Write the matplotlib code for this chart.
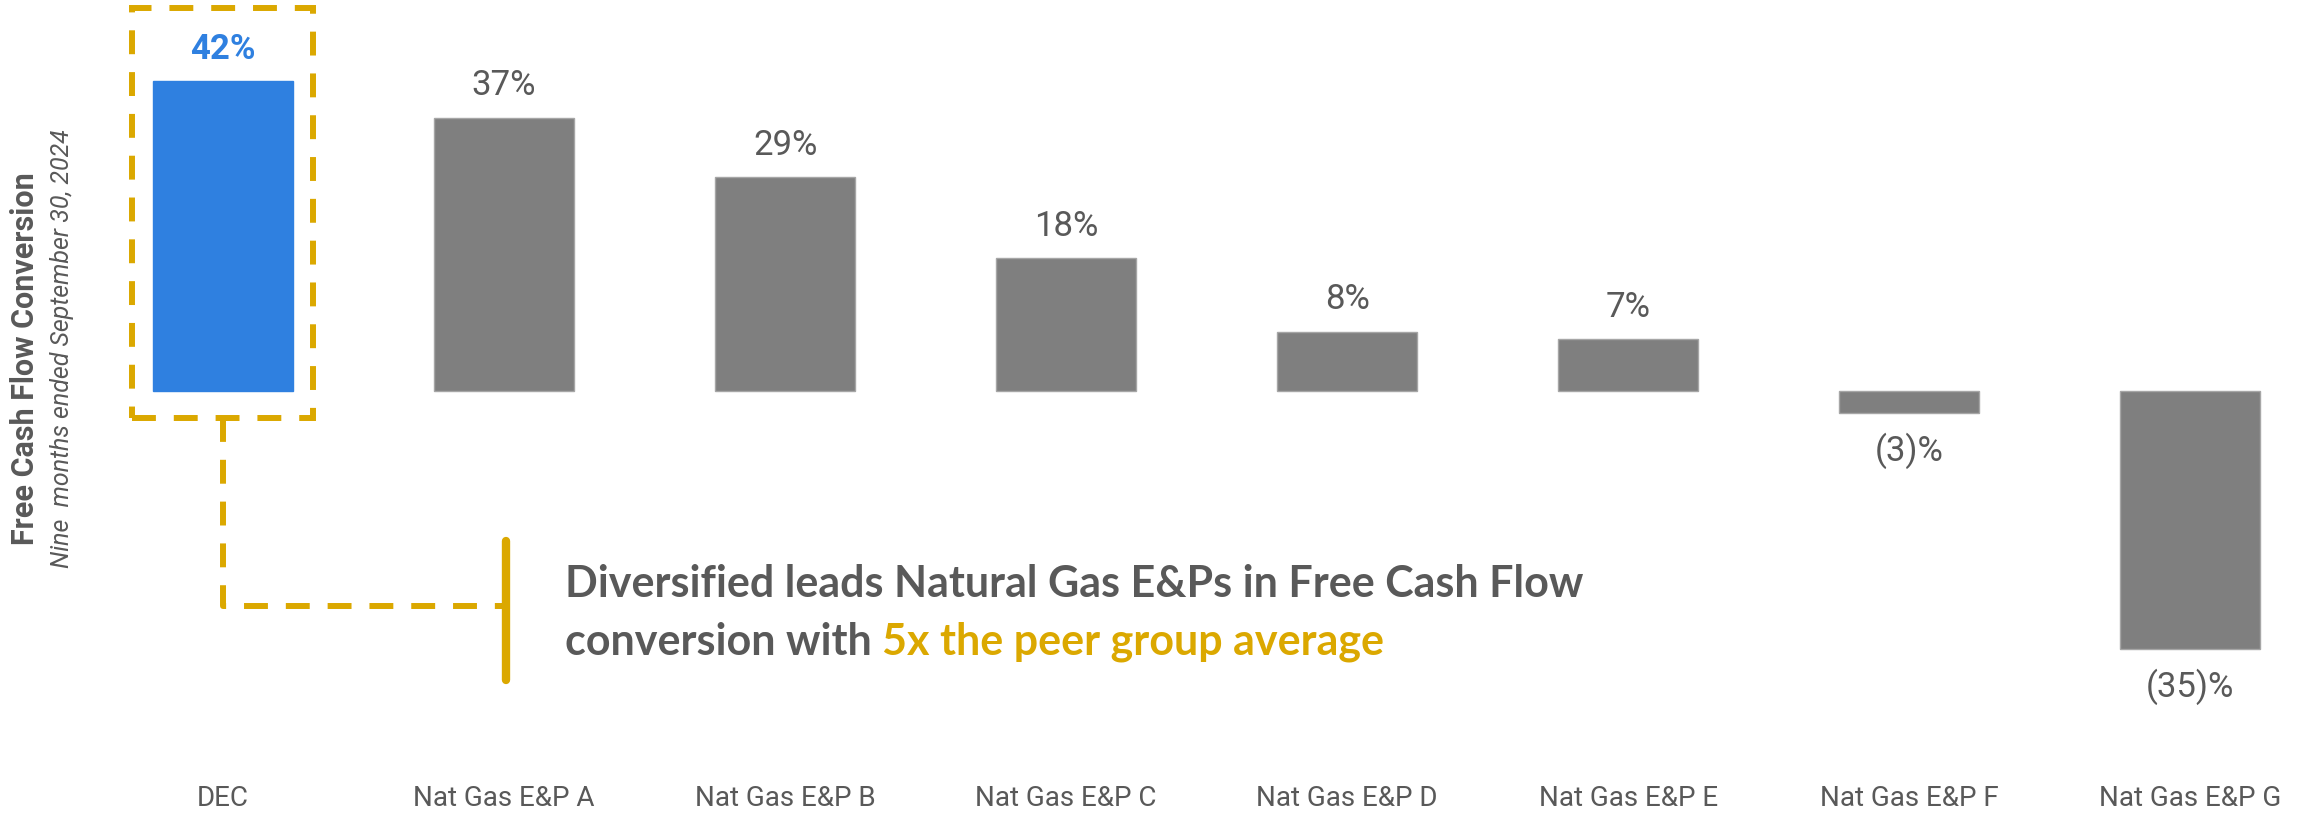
import matplotlib
matplotlib.use('Agg')
import matplotlib.pyplot as plt
from matplotlib.patches import Rectangle

plt.rcParams['font.family'] = ['Roboto', 'DejaVu Sans']

companies = ['DEC', 'Nat Gas E&P A', 'Nat Gas E&P B', 'Nat Gas E&P C',
             'Nat Gas E&P D', 'Nat Gas E&P E', 'Nat Gas E&P F', 'Nat Gas E&P G']
fcf_conv = [42, 37, 29, 18, 8, 7, -3, -35]

BLUE = '#2F80E0'
GREY = '#7F7F7F'
TEXT = '#595959'
GOLD = '#DBA800'

fig = plt.figure(figsize=(23, 8.22), dpi=100)
ax = fig.add_axes([0, 0.0633, 1, 0.9367])

x = list(range(len(companies)))
colors = [BLUE] + [GREY] * (len(companies) - 1)
edges = [BLUE] + ['#A6A6A6'] * (len(companies) - 1)
ax.bar(x, fcf_conv, width=0.5, color=colors, edgecolor=edges, linewidth=1)

for i, v in enumerate(fcf_conv):
    lab = '%d%%' % v if v >= 0 else '(%d)%%' % abs(v)
    if i == 0:
        ax.annotate(lab, (i, v), xytext=(0, 23), textcoords='offset points',
                    ha='center', va='center', fontsize=25, color=BLUE,
                    fontweight='bold')
    elif v >= 0:
        ax.annotate(lab, (i, v), xytext=(0, 23), textcoords='offset points',
                    ha='center', va='center', fontsize=25, color=TEXT)
    else:
        ax.annotate(lab, (i, v), xytext=(0, -27), textcoords='offset points',
                    ha='center', va='center', fontsize=25, color=TEXT)

ax.set_xlim(-0.794, 7.391)
ax.set_ylim(-51.36, 52.98)
ax.set_xticks(x)
ax.set_xticklabels(companies, fontsize=20, color=TEXT)
ax.tick_params(axis='x', length=0, pad=11)
ax.set_yticks([])
for s in ax.spines.values():
    s.set_visible(False)

# dashed highlight box around DEC + connector
dash = (0, (4, 3))
ax.add_patch(Rectangle((-0.324, -3.66), 0.644, 55.56, fill=False,
                       edgecolor=GOLD, linewidth=4.3, linestyle=dash,
                       clip_on=False))
ax.plot([0, 0, 1.007], [-3.66, -29.1, -29.1], color=GOLD, lw=4.3,
        linestyle=dash, clip_on=False)
ax.plot([1.007, 1.007], [-20.3, -39.2], color=GOLD, lw=6,
        solid_capstyle='round', clip_on=False)

ann_font = ['Lato', 'DejaVu Sans']
ax.text(1.217, -26.2, 'Diversified leads Natural Gas E&Ps in Free Cash Flow',
        fontsize=31, fontweight='bold', color=TEXT, family=ann_font,
        ha='left', va='center')
t2 = ax.text(1.217, -34.0, 'conversion with ', fontsize=31,
             fontweight='bold', color=TEXT, family=ann_font,
             ha='left', va='center')
ax.annotate('5x the peer group average', xy=(1, 0), xycoords=t2,
            ha='left', va='bottom', fontsize=31, fontweight='bold',
            color=GOLD, family=ann_font)

fig.text(25 / 2300, 1 - 359 / 822, 'Free Cash Flow Conversion',
         rotation=90, ha='center', va='center', fontsize=22,
         fontweight='bold', color=TEXT,
         family=['Roboto', 'DejaVu Sans'])
fig.text(62 / 2300, 1 - 349 / 822, 'Nine  months ended September 30, 2024',
         rotation=90, ha='center', va='center', fontsize=18,
         style='italic', color=TEXT,
         family=['Roboto', 'DejaVu Sans'])

fig.savefig('out.png', dpi=100)
